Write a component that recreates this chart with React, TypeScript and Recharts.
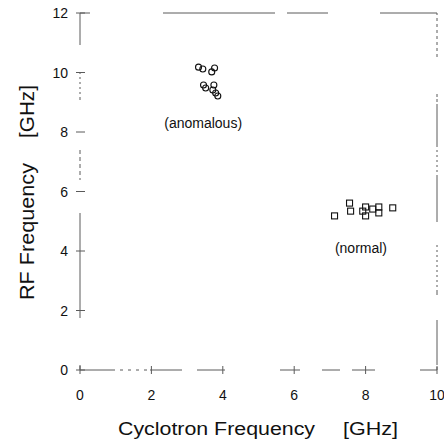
import React from "react";
import {
  ScatterChart,
  Scatter,
  XAxis,
  YAxis,
  ReferenceDot,
  Label,
} from "recharts";

// Cyclotron frequency (x) vs RF frequency (y), both in GHz
const anomalousX = [3.32, 3.44, 3.69, 3.77, 3.46, 3.52, 3.75, 3.72, 3.8, 3.86];
const anomalousY = [10.18, 10.12, 10.02, 10.15, 9.58, 9.48, 9.58, 9.41, 9.31, 9.21];
const normalX = [7.13, 7.55, 7.58, 7.92, 8.0, 8.0, 8.2, 8.37, 8.37, 8.76];
const normalY = [5.18, 5.61, 5.34, 5.34, 5.48, 5.18, 5.41, 5.48, 5.28, 5.45];

const xTicks = [0, 2, 4, 6, 8, 10];
const yTicks = [0, 2, 4, 6, 8, 10, 12];

const anomalous = anomalousX.map((x, i) => ({ x, y: anomalousY[i] }));
const normal = normalX.map((x, i) => ({ x, y: normalY[i] }));

const FONT = "'Liberation Sans', Arial, sans-serif";
const AXIS = "#5a5a5a";

// plot frame edges (left axis x, bottom axis y)
const LEFT = 80;
const BOTTOM = 370;

// scanned-looking broken frame lines
const leftDash = "32 27 2 3 2 3 2 3 2 3 2 3 3 50 4 3 4 3 4 3 4 3 2 33 105 47 5";
const bottomDash = "35 5 3 5 3 5 3 5 3 3 32 15 28 55 20 22 18 12 23 45 17";
const topDash = "10 73 112 12 41 52 57";
const rightDash = "2 3 3 3 3 3 3 3 3 3 3 3 3 3 3 37 3 2 3 2 43 3 2 3 2 3 2 3 2 3 2 3 47 23 2 3 2 3 2 3 2 3 2 3 2 3 2 3 2 3 2 3 5 25 45";

const YTick = (props: any) => {
  const { payload } = props;
  const y = payload.coordinate;
  return (
    <g>
      <line x1={LEFT - 4} x2={LEFT + 5} y1={y} y2={y} stroke={AXIS} />
      <text x={LEFT - 12} y={y + 5} textAnchor="end" fontSize={14} fontFamily={FONT} fill="#111">
        {payload.value}
      </text>
    </g>
  );
};

const XTick = (props: any) => {
  const { payload } = props;
  const x = payload.coordinate;
  return (
    <g>
      <line x1={x} x2={x} y1={BOTTOM - 4} y2={BOTTOM + 4} stroke={AXIS} />
      <text x={x} y={BOTTOM + 30} textAnchor="middle" fontSize={14} fontFamily={FONT} fill="#111">
        {payload.value}
      </text>
    </g>
  );
};

const Circle = (props: any) => (
  <circle cx={props.cx} cy={props.cy} r={3} fill="none" stroke="#111" strokeWidth={1.1} />
);

const Square = (props: any) => (
  <rect x={props.cx - 3} y={props.cy - 3} width={6} height={6} fill="none" stroke="#111" strokeWidth={1.1} />
);

export default function App() {
  return (
    <div style={{ position: "absolute", left: 0, top: 0, background: "#fff" }}>
      <ScatterChart
        width={444}
        height={445}
        margin={{ top: 8, right: 2, bottom: 35, left: 40 }}
      >
        <XAxis
          dataKey="x"
          type="number"
          domain={[0, 10]}
          ticks={xTicks}
          height={40}
          tickSize={0}
          tickMargin={30}
          tick={<XTick />}
          axisLine={{ stroke: AXIS, strokeDasharray: bottomDash }}
        >
          <Label
            content={() => (
              <g fontFamily={FONT} fill="#111">
                <text x={118} y={435} fontSize={18} textLength={197} lengthAdjust="spacingAndGlyphs">
                  Cyclotron Frequency
                </text>
                <text x={343} y={435} fontSize={18} textLength={55} lengthAdjust="spacingAndGlyphs">
                  [GHz]
                </text>
              </g>
            )}
          />
        </XAxis>
        <XAxis
          xAxisId="top"
          orientation="top"
          type="number"
          domain={[0, 10]}
          height={5}
          tick={false}
          tickLine={false}
          axisLine={{ stroke: AXIS, strokeDasharray: topDash }}
        />
        <YAxis
          dataKey="y"
          type="number"
          domain={[0, 12]}
          ticks={yTicks}
          width={40}
          tickSize={0}
          tickMargin={12}
          tick={<YTick />}
          axisLine={{ stroke: AXIS, strokeDasharray: leftDash }}
        >
          <Label
            content={() => (
              <g fontFamily={FONT} fill="#111">
                <text
                  transform="translate(34,300) rotate(-90)"
                  fontSize={20}
                  textLength={137}
                  lengthAdjust="spacingAndGlyphs"
                >
                  RF Frequency
                </text>
                <text
                  transform="translate(34,138) rotate(-90)"
                  fontSize={20}
                  textLength={53}
                  lengthAdjust="spacingAndGlyphs"
                >
                  [GHz]
                </text>
              </g>
            )}
          />
        </YAxis>
        <YAxis
          yAxisId="right"
          orientation="right"
          type="number"
          domain={[0, 12]}
          width={5}
          tick={false}
          tickLine={false}
          axisLine={{ stroke: AXIS, strokeDasharray: rightDash }}
        />
        <Scatter data={anomalous} shape={<Circle />} isAnimationActive={false} />
        <Scatter data={normal} shape={<Square />} isAnimationActive={false} />
        <ReferenceDot
          x={3.45}
          y={8.3}
          r={0}
          fill="none"
          stroke="none"
          label={{ value: "(anomalous)", position: "center", fontSize: 14, fontFamily: FONT, fill: "#111" }}
        />
        <ReferenceDot
          x={7.87}
          y={4.1}
          r={0}
          fill="none"
          stroke="none"
          label={{ value: "(normal)", position: "center", fontSize: 14, fontFamily: FONT, fill: "#111" }}
        />
      </ScatterChart>
    </div>
  );
}
